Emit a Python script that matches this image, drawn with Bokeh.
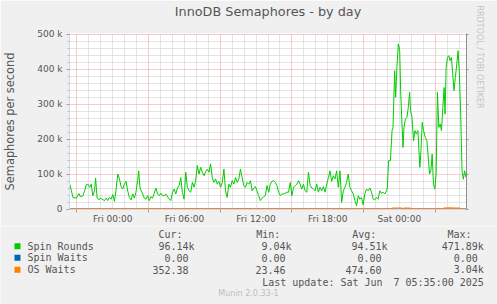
import math
from bokeh.plotting import figure
from bokeh.models import Range1d, FixedTicker, LinearAxis, Grid, Title
from bokeh.core.properties import value
from bokeh.embed import file_html
from bokeh.resources import INLINE

# ---------------- data ----------------
# hours relative to Fri 00:00, values in thousands per second
spin_hours = [-3.58, -3.47, -3.33, -3.06, -2.83, -2.72, -2.5, -2.36, -2.22, -2.08,
              -1.94, -1.81, -1.67, -1.53, -1.44, -1.31, -1.17, -1.06, -0.89, -0.69,
              -0.56, -0.42, -0.28, -0.14, 0.0, 0.14, 0.28, 0.42, 0.56, 0.69,
              0.83, 0.97, 1.11, 1.25, 1.39, 1.53, 1.67, 1.81, 1.94, 2.08,
              2.17, 2.28, 2.44, 2.64, 2.78, 2.92, 3.06, 3.19, 3.33, 3.47,
              3.61, 3.75, 3.89, 4.03, 4.17, 4.31, 4.44, 4.67, 4.86, 5.0,
              5.14, 5.28, 5.42, 5.56, 5.69, 5.83, 5.97, 6.06, 6.11, 6.25,
              6.39, 6.53, 6.67, 6.81, 6.94, 7.08, 7.22, 7.36, 7.5, 7.64,
              7.78, 7.92, 8.06, 8.19, 8.33, 8.47, 8.61, 8.75, 8.89, 9.03,
              9.17, 9.31, 9.44, 9.58, 9.72, 9.86, 10.0, 10.14, 10.28, 10.42,
              10.56, 10.69, 10.83, 10.97, 11.11, 11.25, 11.39, 11.53, 11.67, 11.8,
              11.94, 12.08, 12.22, 12.36, 12.5, 12.64, 12.78, 12.92, 13.06, 13.19,
              13.33, 13.47, 13.61, 13.75, 13.89, 14.03, 14.17, 14.31, 14.44, 14.58,
              14.72, 14.86, 15.0, 15.14, 15.28, 15.42, 15.56, 15.69, 15.83, 15.97,
              16.11, 16.25, 16.39, 16.53, 16.67, 16.81, 16.94, 17.08, 17.22, 17.36,
              17.5, 17.64, 17.78, 17.92, 18.06, 18.19, 18.33, 18.47, 18.61, 18.75,
              18.89, 19.03, 19.17, 19.31, 19.44, 19.58, 19.72, 19.86, 20.0, 20.14,
              20.28, 20.42, 20.56, 20.69, 20.83, 20.97, 21.11, 21.25, 21.39, 21.53,
              21.67, 21.81, 21.94, 22.08, 22.22, 22.36, 22.5, 22.64, 22.78, 22.92,
              23.0, 23.1, 23.25, 23.39, 23.47, 23.61, 23.69, 23.81, 23.92, 24.03,
              24.11, 24.22, 24.31, 24.39, 24.5, 24.64, 24.75, 24.86, 24.94, 25.06,
              25.19, 25.31, 25.42, 25.56, 25.64, 25.72, 25.81, 25.92, 26.03, 26.17,
              26.31, 26.42, 26.53, 26.64, 26.75, 26.86, 26.97, 27.08, 27.19, 27.31,
              27.42, 27.53, 27.64, 27.75, 27.83, 27.92, 28.03, 28.14, 28.25, 28.36,
              28.47, 28.58, 28.69, 28.81, 28.92, 29.03, 29.14, 29.25, 29.36, 29.47,
              29.58, 29.62]
spin_rounds_k = [69, 52, 33, 31, 44, 35, 38, 52, 69, 71,
                 62, 71, 38, 52, 88, 31, 26, 31, 28, 24,
                 31, 24, 33, 28, 41, 22, 57, 100, 86, 64,
                 57, 71, 79, 52, 33, 26, 43, 31, 48, 81,
                 109, 60, 48, 31, 28, 38, 24, 35, 31, 45,
                 60, 43, 38, 45, 38, 38, 43, 31, 24, 48,
                 57, 43, 60, 67, 90, 48, 28, 76, 105, 62,
                 52, 48, 76, 62, 81, 124, 100, 119, 105, 95,
                 107, 114, 105, 129, 90, 76, 86, 71, 79, 62,
                 76, 114, 52, 33, 71, 62, 81, 71, 90, 76,
                 86, 114, 90, 67, 62, 76, 71, 81, 52, 60,
                 64, 52, 38, 24, 31, 35, 38, 67, 48, 71,
                 79, 81, 76, 67, 48, 38, 43, 43, 45, 48,
                 48, 76, 38, 62, 67, 71, 81, 71, 57, 71,
                 52, 48, 105, 67, 60, 57, 52, 71, 48, 62,
                 52, 64, 48, 71, 90, 109, 79, 95, 86, 109,
                 62, 109, 19, 52, 62, 76, 100, 62, 52, 43,
                 24, 9.04, 38, 28, 33, 12, 43, 57, 52, 60,
                 48, 28, 26, 33, 28, 52, 45, 48, 43, 52,
                 62, 138, 138, 224, 233, 395, 319, 414, 471.89, 452,
                 338, 243, 176, 233, 257, 262, 290, 333, 281, 262,
                 195, 224, 214, 224, 167, 119, 167, 248, 224, 205,
                 195, 148, 100, 109, 157, 71, 57, 100, 333, 233,
                 243, 224, 290, 347, 271, 405, 433, 438, 424, 433,
                 386, 338, 376, 414, 452, 386, 271, 109, 85, 109,
                 91, 96.14]

os_hours = [-3.62, -2.5, -1.0, 0.5, 2.0, 3.5, 5.0, 6.5, 8.0, 9.5, 11.0, 12.5,
            14.0, 15.5, 17.0, 18.5, 20.0, 21.5, 23.0, 23.3, 23.45, 23.7, 24.0,
            24.2, 24.3, 24.45, 24.7, 25.0, 25.1, 26.0, 27.15, 27.25, 27.35,
            27.65, 27.75, 28.2, 28.7, 29.05, 29.15, 29.62]
os_waits_k = [0.25, 0.2, 0.3, 0.15, 0.3, 0.2, 0.25, 0.3, 0.2, 0.25, 0.3, 0.2,
              0.25, 0.3, 0.2, 0.3, 0.25, 0.2, 0.3, 0.6, 2.5, 2.8, 2.9,
              2.4, 0.8, 2.4, 2.6, 2.2, 0.6, 0.4, 0.5, 2.2, 0.5,
              0.6, 2.5, 3.04, 2.6, 2.3, 0.5, 0.35]
spin_waits_k = [0.0] * len(os_hours)

y_ticks_k = [0, 100, 200, 300, 400, 500]
y_tick_labels = ["0", "100 k", "200 k", "300 k", "400 k", "500 k"]
y_minor_k = [20, 40, 60, 80, 120, 140, 160, 180, 220, 240, 260, 280,
             320, 340, 360, 380, 420, 440, 460, 480]
x_label_hours = [0, 6, 12, 18, 24]
x_tick_labels = ["Fri 00:00", "Fri 06:00", "Fri 12:00", "Fri 18:00", "Sat 00:00"]
x_major_grid_hours = [-3, 3, 9, 15, 21, 27]
x_minor_grid_hours = [h for h in range(-3, 30) if h not in x_major_grid_hours]

legend_names = ["Spin Rounds", "Spin Waits", "OS Waits"]
legend_colors = ["#00cc00", "#0066b3", "#ff8000"]
col_headers = ["Cur:", "Min:", "Avg:", "Max:"]
cur_vals = ["96.14k", "0.00", "352.38"]
min_vals = ["9.04k", "0.00", "23.46"]
avg_vals = ["94.51k", "0.00", "474.60"]
max_vals = ["471.89k", "0.00", "3.04k"]

TXT = "#555555"
FONT = "DejaVu Sans"
MONO = "DejaVu Sans Mono"
BG = "#f0f0f0"
CHART_H = 226
FRAME_BOTTOM = 209
half_px = 500 / 350.0

# ---------------- chart ----------------
p = figure(width=497, height=CHART_H, output_backend="svg", toolbar_location=None,
           x_range=Range1d(-3.625, 29.625),
           y_range=Range1d(-half_px, 500 + half_px),
           x_axis_type=None, y_axis_type=None,
           min_border_left=67, min_border_right=31, min_border_top=33,
           min_border_bottom=CHART_H - FRAME_BOTTOM, background_fill_color="white",
           border_fill_color=BG, outline_line_color=None)

p.title.text = "InnoDB Semaphores - by day\n"
p.title.align = "center"
p.title.offset = -18
p.title.text_font = FONT
p.title.text_font_size = "12.8px"
p.title.text_font_style = "normal"
p.title.text_color = TXT
p.title.vertical_align = "bottom"
p.title.standoff = 0

xgrid = Grid(dimension=0, ticker=FixedTicker(ticks=x_major_grid_hours,
                                             minor_ticks=x_minor_grid_hours))
ygrid = Grid(dimension=1, ticker=FixedTicker(ticks=y_ticks_k[1:], minor_ticks=y_minor_k))
for g in (xgrid, ygrid):
    g.grid_line_color = "#f29696"
    g.grid_line_dash = "1 1"
    g.minor_grid_line_color = "#c8c8c8"
    g.minor_grid_line_dash = "1 1"
    p.add_layout(g, "center")

yaxis = LinearAxis(ticker=FixedTicker(ticks=y_ticks_k, minor_ticks=y_minor_k),
                   major_label_overrides=dict(zip(y_ticks_k, y_tick_labels)),
                   axis_label="Semaphores per second")
yaxis.axis_line_color = "#cfd6f8"
yaxis.major_tick_line_color = "#a0a0a0"
yaxis.minor_tick_line_color = "#c0c0c0"
yaxis.major_tick_out = 3
yaxis.major_tick_in = 0
yaxis.minor_tick_out = 2
yaxis.minor_tick_in = 0
yaxis.major_label_standoff = 4
yaxis.major_label_text_font = FONT
yaxis.major_label_text_font_size = "9px"
yaxis.major_label_text_color = TXT
yaxis.axis_label_text_font = FONT
yaxis.axis_label_text_font_size = "11.4px"
yaxis.axis_label_text_font_style = "normal"
yaxis.axis_label_text_color = TXT
yaxis.axis_label_standoff = 17
p.add_layout(yaxis, "left")

xaxis = LinearAxis(ticker=FixedTicker(ticks=x_label_hours, minor_ticks=x_major_grid_hours),
                   major_label_overrides=dict(zip(x_label_hours, x_tick_labels)))
xaxis.axis_line_color = "#cfd6f8"
xaxis.major_tick_out = 0
xaxis.major_tick_in = 0
xaxis.minor_tick_out = 3
xaxis.minor_tick_in = 0
xaxis.minor_tick_line_color = "#a0a0a0"
xaxis.major_label_standoff = 1
xaxis.major_label_text_font = FONT
xaxis.major_label_text_font_size = "9px"
xaxis.major_label_text_color = TXT
p.add_layout(xaxis, "below")

raxis = LinearAxis(ticker=FixedTicker(ticks=y_ticks_k, minor_ticks=[]),
                   major_label_overrides={t: "" for t in y_ticks_k})
raxis.axis_line_color = "#909090"
raxis.major_tick_line_color = "#909090"
raxis.major_tick_out = 2
raxis.major_tick_in = 0
raxis.major_label_standoff = 9
raxis.major_label_text_font_size = "1px"
p.add_layout(raxis, "right")

p.add_layout(Title(text="RRDTOOL / TOBI OETIKER", align="left", offset=-28,
                   vertical_align="top", text_font=FONT, text_font_size="8px",
                   text_font_style="normal", text_color="#c4c4c4", standoff=8), "right")

p.line(spin_hours, spin_rounds_k, line_color=legend_colors[0], line_width=1)
p.line(os_hours, spin_waits_k, line_color=legend_colors[1], line_width=1.2)
p.line(os_hours, os_waits_k, line_color=legend_colors[2], line_width=1.2)

# ---------------- legend panel (separate root) ----------------
LEG_H = 304 - CHART_H
q = figure(width=497, height=LEG_H, output_backend="svg", toolbar_location=None,
           x_range=Range1d(0, 497), y_range=Range1d(LEG_H, 0),
           x_axis_type=None, y_axis_type=None, min_border=0,
           background_fill_color=BG, border_fill_color=BG, outline_line_color=None)

off = CHART_H
row_y = [245.7 - off, 257.3 - off, 269.3 - off]
q.quad(left=[14] * 3, right=[20] * 3, top=[y - 3 for y in row_y],
       bottom=[y + 3 for y in row_y], fill_color=legend_colors, line_color=None)

mono = dict(text_font=value(MONO), text_font_size="10px", text_baseline="middle",
            text_color=TXT)
q.text(x=[158, 255.7, 351.7, 447], y=[234 - off] * 4, text=col_headers,
       text_align="left", **mono)
q.text(x=[27] * 3, y=row_y, text=legend_names, text_align="left", **mono)
col_right = [194, 291, 387, 483.3]
for cr, vals in zip(col_right, [cur_vals, min_vals, avg_vals, max_vals]):
    xs = [cr if v.endswith("k") else cr - 6 for v in vals]
    q.text(x=xs, y=row_y, text=vals, text_align="right", **mono)
q.text(x=[261.7], y=[281.7 - off], text=["Last update: Sat Jun"], text_align="left", **mono)
q.text(x=[483.3], y=[281.7 - off], text=["7 05:35:00 2025"], text_align="right", **mono)
q.text(x=[248], y=[292.7 - off], text=["Munin 2.0.33-1"], text_align="center",
       text_font=value(FONT), text_font_size="8px", text_baseline="middle",
       text_color="#bdbdbd")

open("out.html", "w").write(file_html([p, q], INLINE))
